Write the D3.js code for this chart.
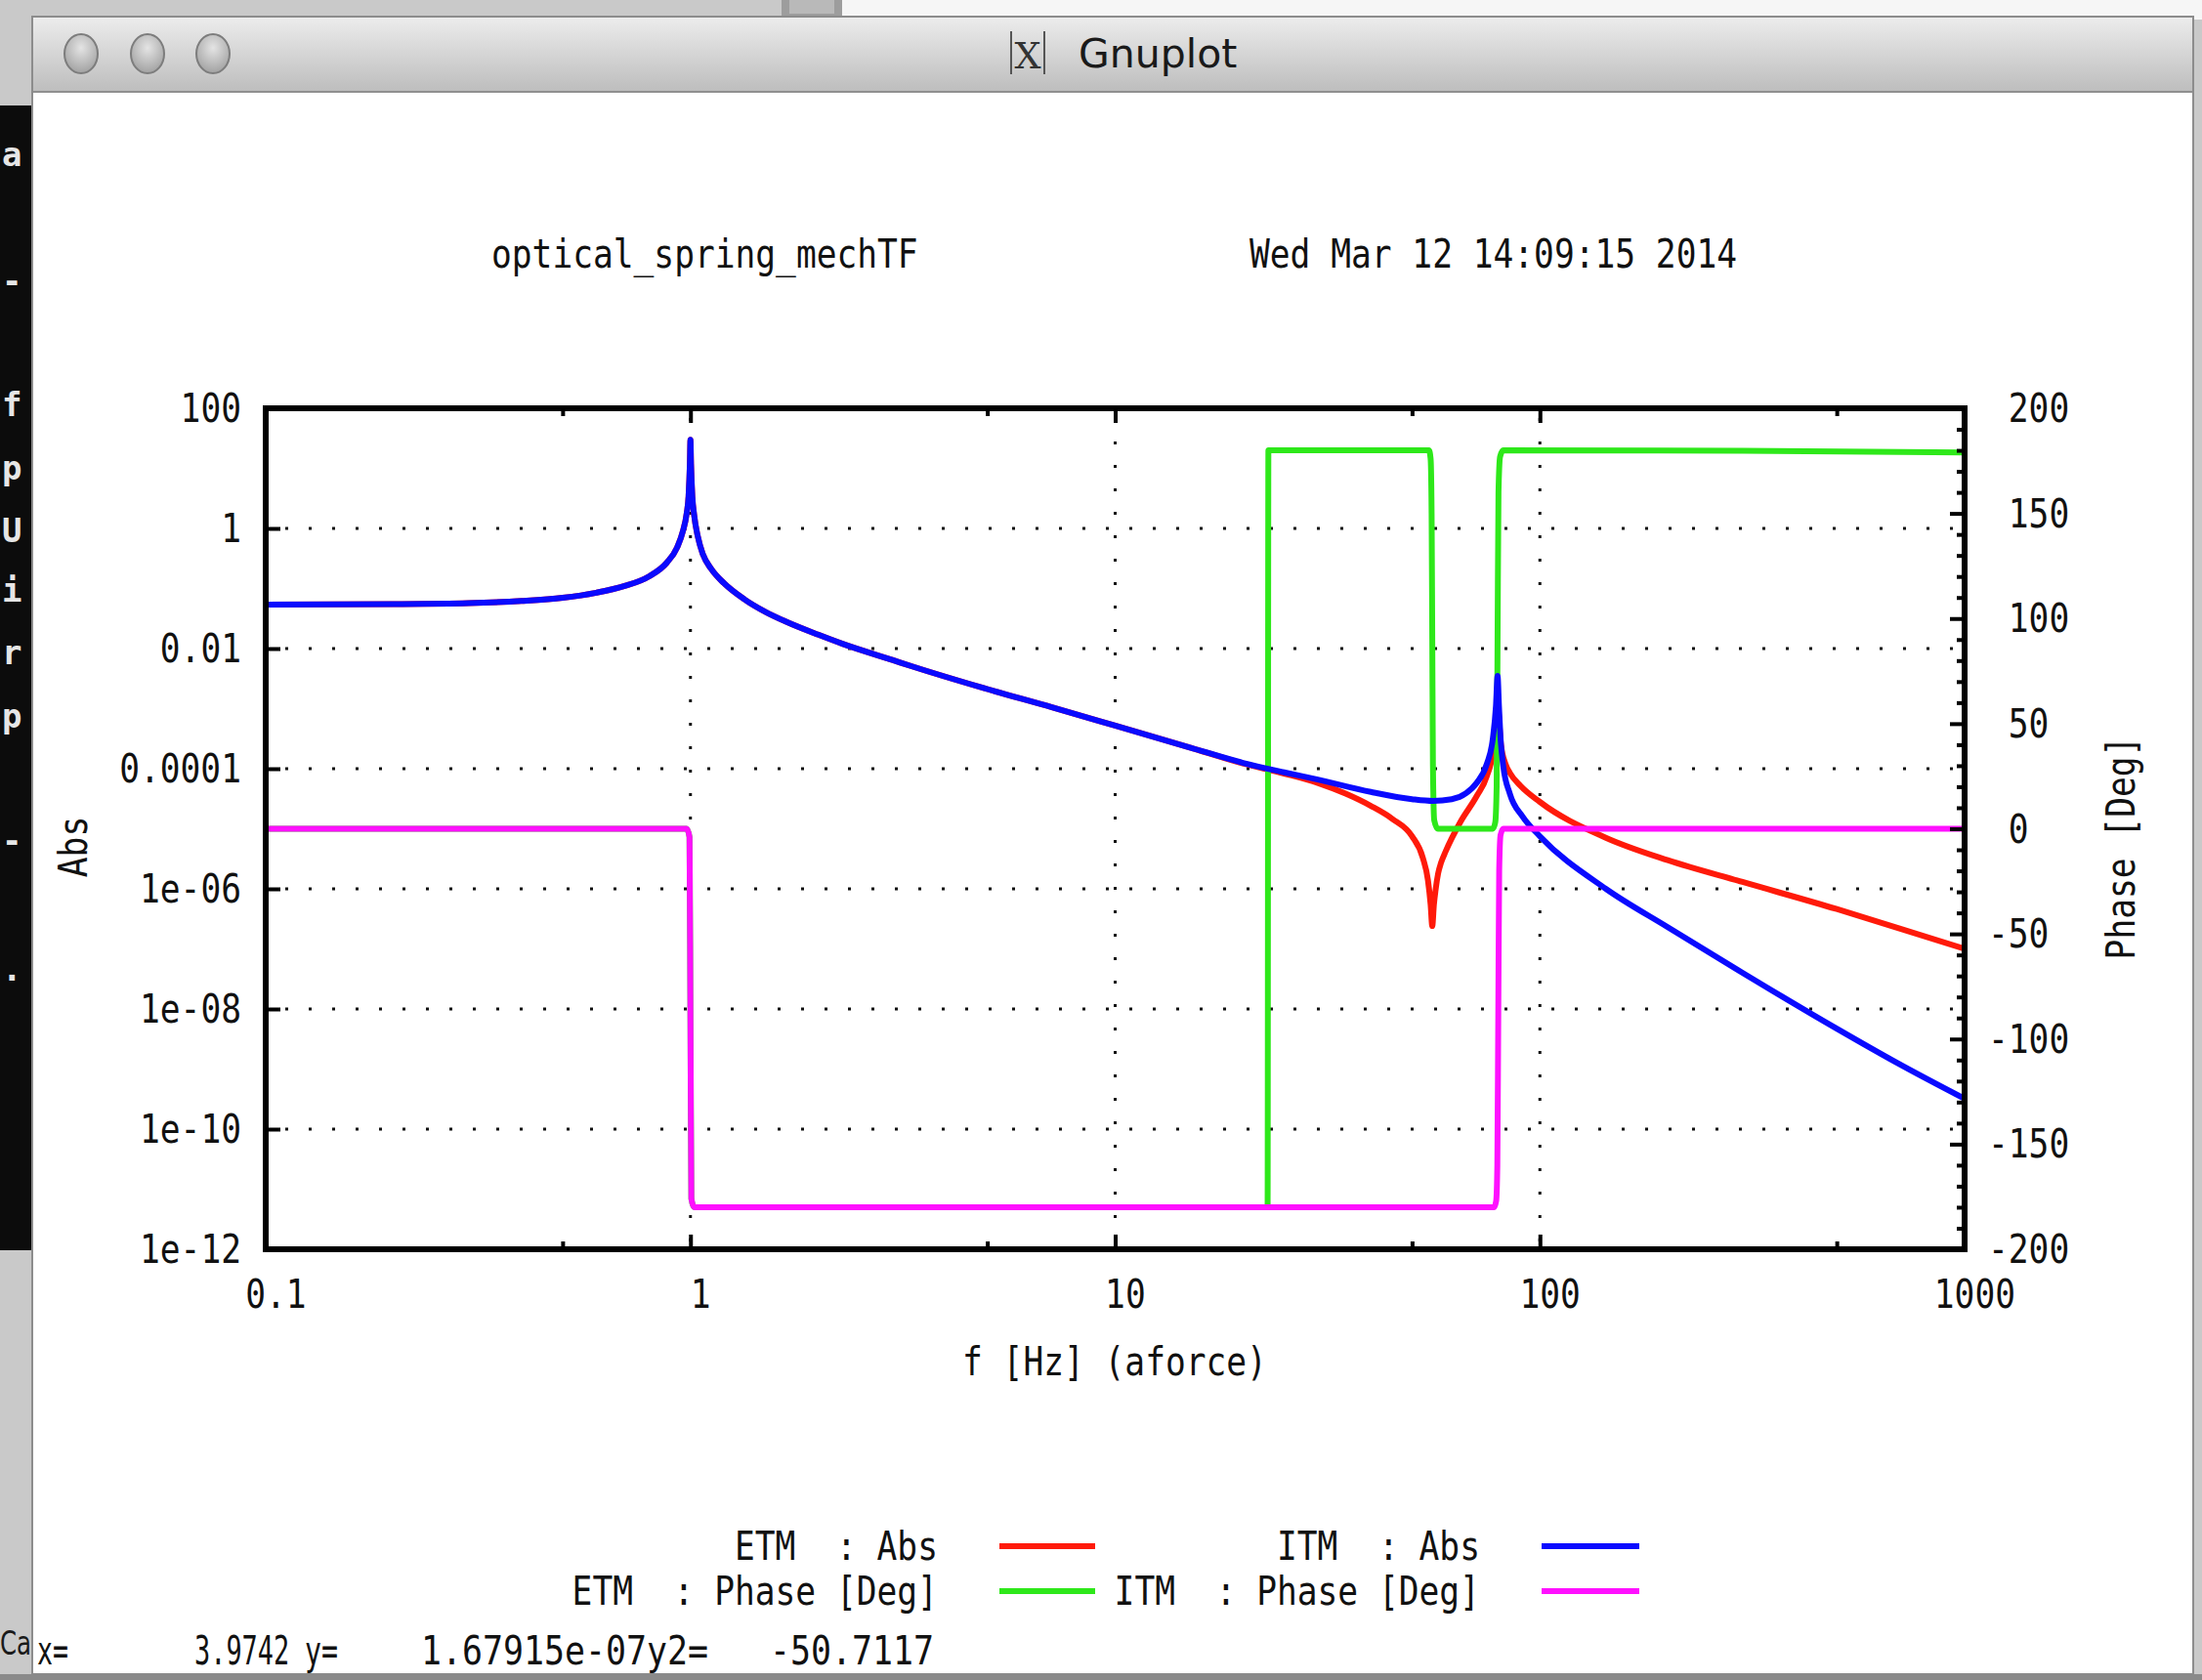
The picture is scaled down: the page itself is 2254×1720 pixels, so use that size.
<!DOCTYPE html>
<html>
<head>
<meta charset="utf-8">
<script src="https://cdn.jsdelivr.net/npm/d3@7"></script>
<style>
  html, body { margin: 0; padding: 0; background: #cdcdcd; overflow: hidden; }
  svg { display: block; }
</style>
</head>
<body>
<svg id="chart" width="2254" height="1720"></svg>
<script>
// ---------------- data: frequency response of the two test masses ----------------
// magnitude series: [frequency in Hz, |TF|]
const etmAbs = [
  [0.1,0.054],[0.2,0.055],[0.3,0.057],[0.4,0.062],[0.5,0.07],[0.6,0.085],[0.7,0.11],[0.8,0.16],
  [0.88,0.27],[0.93,0.48],[0.96,0.9],[0.98,1.8],[0.99,3.5],[0.997,12],[1.0,30],[1.003,12],
  [1.01,3.5],[1.02,1.7],[1.04,0.75],[1.07,0.37],[1.12,0.21],[1.2,0.122],[1.34,0.066],[1.5,0.041],
  [1.68,0.028],[2.0,0.017],[2.28,0.012],[3.0,0.0064],[3.34,0.005],[4.9,0.0022],[7.1,0.00105],
  [10,0.00052],[15,0.000225],[20,0.000122],
  [25,0.000083],[30,0.000058],[35,0.000038],[40,0.000024],[45,0.0000145],[50,0.0000075],
  [53,0.0000033],[54.5,0.0000014],[55.3,0.00000055],[55.8,0.00000024],[56.3,0.00000055],
  [56.8,0.00000095],[57.6,0.0000018],[58.5,0.0000027],[60,0.0000042],[65,0.000013],[71,0.000035],
  [75,0.000075],[77.5,0.00019],[78.8,0.0006],[79.5,0.0015],[80.2,0.0006],[81,0.00025],[83,0.00012],
  [85,0.000085],[90,0.000052],[100,0.000028],[143,0.0000071],[200,0.000003],[300,0.0000013],
  [500,0.00000046],[700,0.00000022],[1000,0.0000001]
];
const itmAbs = [
  [0.1,0.054],[0.2,0.055],[0.3,0.057],[0.4,0.062],[0.5,0.07],[0.6,0.085],[0.7,0.11],[0.8,0.16],
  [0.88,0.27],[0.93,0.48],[0.96,0.9],[0.98,1.8],[0.99,3.5],[0.997,12],[1.0,30],[1.003,12],
  [1.01,3.5],[1.02,1.7],[1.04,0.75],[1.07,0.37],[1.12,0.21],[1.2,0.122],[1.34,0.066],[1.5,0.041],
  [1.68,0.028],[2.0,0.017],[2.28,0.012],[3.0,0.0064],[3.34,0.005],[4.9,0.0022],[7.1,0.00105],
  [10,0.00052],[15,0.000225],[20,0.000125],
  [25,0.000087],[30,0.000066],[40,0.000041],[50,0.000031],[56,0.000029],[62,0.000031],
  [67,0.000039],[71,0.000058],[75,0.00012],[77.5,0.00032],[78.8,0.0011],[79.5,0.0035],
  [80.1,0.0011],[80.8,0.00032],[82,0.00011],[85,0.000038],[91,0.000016],[100,0.0000075],
  [143,0.000001],[200,0.00000023],[300,0.00000004],[500,0.0000000047],[700,0.00000000122],
  [1000,0.00000000032]
];
// phase series: [frequency in Hz, degrees]
const etmPhase = [
  [0.1,0],[0.98,0],[0.995,-4],[1.0,-90],[1.005,-176],[1.02,-180],
  [10,-180],[22.85,-180],[22.95,180],[54.8,180],[55.3,176],[55.6,150],[55.8,90],[56.0,30],
  [56.4,4],[57.5,0],[77.5,0],[78.5,3],[79.1,20],[79.5,90],[79.9,160],[80.6,177],[82,180],
  [300,179.8],[1000,179]
];
const itmPhase = [
  [0.1,0],[0.98,0],[0.995,-4],[1.0,-90],[1.005,-176],[1.02,-180],
  [10,-180],[78,-180],[78.9,-177],[79.4,-160],[79.8,-90],[80.2,-20],[80.8,-3],[82,0],[1000,0]
];

// axis ticks and labels
const xMajor = [0.1, 1, 10, 100, 1000];
const xMinor = [0.5, 5, 50, 500];
const xTickLabels = ["0.1", "1", "10", "100", "1000"];
const yMajor = [1e-12, 1e-10, 1e-8, 1e-6, 1e-4, 1e-2, 1, 100];
const yTickLabels = ["1e-12", "1e-10", "1e-08", "1e-06", "0.0001", "0.01", "1", "100"];
const y2Major = [-200, -150, -100, -50, 0, 50, 100, 150, 200];
const y2TickLabels = ["-200", "-150", "-100", "-50", "0", "50", "100", "150", "200"];

const plotTitle = "optical_spring_mechTF";
const plotDate = "Wed Mar 12 14:09:15 2014";
const xLabel = "f [Hz] (aforce)";
const yLabel = "Abs";
const y2Label = "Phase [Deg]";
const legendEntries = [
  { label: "ETM  : Abs", data: etmAbs, axis: "y", color: "#ff1a0a" },
  { label: "ETM  : Phase [Deg]", data: etmPhase, axis: "y2", color: "#2ee81a" },
  { label: "ITM  : Abs", data: itmAbs, axis: "y", color: "#0a0aff" },
  { label: "ITM  : Phase [Deg]", data: itmPhase, axis: "y2", color: "#ff10ff" }
];
// cursor readout in the status line: [text, left x, character width]
const statusParts = [["x=", 38, 16], ["3.9742", 199, 16.2], ["y=", 312, 17], ["1.67915e-07y2=", 431, 21], ["-50.7117", 788, 21]];

// ---------------- layout ----------------
const W = 2254, H = 1720;
const P = { left: 272, right: 2011, top: 418, bottom: 1279 };
const MONO = "'DejaVu Sans Mono','Liberation Mono',monospace";
const FS = 40, CW = 20.8, NATURAL_CW = 0.602 * FS;

const svg = d3.select("#chart");

// ---------------- desktop and window frame ----------------
const defs = svg.append("defs");
const tb = defs.append("linearGradient").attr("id", "titlebar").attr("x1", 0).attr("y1", 0).attr("x2", 0).attr("y2", 1);
tb.append("stop").attr("offset", "0%").attr("stop-color", "#ececec");
tb.append("stop").attr("offset", "100%").attr("stop-color", "#bdbdbd");
const btn = defs.append("radialGradient").attr("id", "btn").attr("cx", "50%").attr("cy", "35%").attr("r", "65%");
btn.append("stop").attr("offset", "0%").attr("stop-color", "#e4e4e4");
btn.append("stop").attr("offset", "100%").attr("stop-color", "#a2a2a2");

svg.append("rect").attr("width", W).attr("height", H).attr("fill", "#c9c9c9");
svg.append("rect").attr("x", 860).attr("y", 0).attr("width", W - 860).attr("height", 20).attr("fill", "#f6f6f6");
svg.append("rect").attr("x", 800).attr("y", 0).attr("width", 62).attr("height", 20).attr("fill", "#9d9d9d");
svg.append("rect").attr("x", 808).attr("y", 0).attr("width", 46).attr("height", 14).attr("fill", "#b9b9b9");

// terminal behind the window, on the left edge
svg.append("rect").attr("x", 0).attr("y", 108).attr("width", 36).attr("height", 1172).attr("fill", "#0c0c0c");
const termChars = [["a",158],["-",287],["f",414],["p",479],["U",543],["i",604],["r",668],["p",733],["-",860],[".",992]];
svg.append("g").selectAll("text").data(termChars).join("text")
  .attr("x", 2).attr("y", d => d[1] + 12)
  .attr("font-family", MONO).attr("font-size", 34).attr("font-weight", "bold")
  .attr("fill", "#e6e6e6").text(d => d[0]);

// window body
svg.append("rect").attr("x", 33).attr("y", 17).attr("width", 2212).attr("height", 1697)
  .attr("fill", "#ffffff").attr("stroke", "#8c8c8c").attr("stroke-width", 2);
svg.append("rect").attr("x", 34).attr("y", 18).attr("width", 2210).attr("height", 76).attr("fill", "url(#titlebar)");
svg.append("line").attr("x1", 34).attr("x2", 2244).attr("y1", 94).attr("y2", 94).attr("stroke", "#8f8f8f").attr("stroke-width", 2);
svg.append("rect").attr("x", 0).attr("y", 1714).attr("width", W).attr("height", 6).attr("fill", "#8a8a8a");
svg.append("g").attr("transform", "translate(0,1694) scale(0.72,1)")
  .append("text").attr("x", 0).attr("y", 0)
  .attr("font-family", "'DejaVu Sans',sans-serif").attr("font-size", 34).attr("fill", "#1a1a1a").text("Ca");

// window buttons
svg.append("g").selectAll("ellipse").data([83, 151, 218]).join("ellipse")
  .attr("cx", d => d).attr("cy", 55).attr("rx", 17).attr("ry", 20)
  .attr("fill", "url(#btn)").attr("stroke", "#7d7d7d").attr("stroke-width", 2);

// window title with X icon
const icon = svg.append("g").attr("transform", "translate(1033,30)");
icon.append("line").attr("x1", 2).attr("x2", 2).attr("y1", 2).attr("y2", 46).attr("stroke", "#555").attr("stroke-width", 2);
icon.append("line").attr("x1", 36).attr("x2", 36).attr("y1", 2).attr("y2", 46).attr("stroke", "#555").attr("stroke-width", 2);
icon.append("text").attr("x", 19).attr("y", 40).attr("text-anchor", "middle")
  .attr("font-family", "'DejaVu Serif',serif").attr("font-size", 38).attr("fill", "#333").text("X");
svg.append("text").attr("x", 1104).attr("y", 69)
  .attr("font-family", "'DejaVu Sans',sans-serif").attr("font-size", 41).attr("fill", "#1a1a1a").text("Gnuplot");

// ---------------- helpers ----------------
// monospace text squeezed horizontally to the narrow terminal font pitch
function mono(sel, str, x, y, anchor, cw) {
  const c = cw || CW;
  const len = str.length * c;
  const x0 = anchor === "end" ? x - len : anchor === "middle" ? x - len / 2 : x;
  return sel.append("g").attr("transform", `translate(${x0},${y}) scale(${c / NATURAL_CW},1)`)
    .append("text").attr("x", 0).attr("y", 0)
    .attr("font-family", MONO).attr("font-size", FS).attr("fill", "#111")
    .style("white-space", "pre").text(str);
}

// ---------------- scales ----------------
const x = d3.scaleLog().domain([0.1, 1000]).range([P.left, P.right]);
const y = d3.scaleLog().domain([1e-12, 100]).range([P.bottom, P.top]);
const y2 = d3.scaleLinear().domain([-200, 200]).range([P.bottom, P.top]);

const plot = svg.append("g");

// ---------------- grid (dotted) ----------------
const grid = plot.append("g").attr("stroke", "#111").attr("stroke-width", 3).attr("stroke-dasharray", "3 21");
grid.selectAll("line.gx").data(xMajor.slice(1, -1)).join("line")
  .attr("x1", d => x(d)).attr("x2", d => x(d)).attr("y1", P.bottom - 8).attr("y2", P.top + 8);
grid.selectAll("line.gy").data(yMajor.slice(1, -1)).join("line")
  .attr("x1", P.left + 20).attr("x2", P.right - 8).attr("y1", d => y(d)).attr("y2", d => y(d));

// ---------------- curves ----------------
defs.append("clipPath").attr("id", "plotclip").append("rect")
  .attr("x", P.left).attr("y", P.top).attr("width", P.right - P.left).attr("height", P.bottom - P.top);
const curves = plot.append("g").attr("clip-path", "url(#plotclip)");
legendEntries.forEach(s => {
  const yy = s.axis === "y" ? y : y2;
  const line = d3.line().x(d => x(d[0])).y(d => yy(d[1])).curve(d3.curveMonotoneX);
  curves.append("path").datum(s.data).attr("d", line)
    .attr("fill", "none").attr("stroke", s.color).attr("stroke-width", 6)
    .attr("stroke-linejoin", "round").attr("stroke-linecap", "round");
});

// ---------------- axes ----------------
const ax = plot.append("g");
const xAxisB = d3.axisBottom(x).tickValues(xMajor).tickSize(-15).tickFormat("");
const xAxisT = d3.axisTop(x).tickValues(xMajor).tickSize(-15).tickFormat("");
const xMinB = d3.axisBottom(x).tickValues(xMinor).tickSize(-8).tickFormat("");
const xMinT = d3.axisTop(x).tickValues(xMinor).tickSize(-8).tickFormat("");
const yAxis = d3.axisLeft(y).tickValues(yMajor).tickSize(-15).tickFormat("");
const y2Minor = d3.range(-190, 200, 10).filter(v => v % 50 !== 0);
const y2Axis = d3.axisRight(y2).tickValues(y2Major).tickSize(-15).tickFormat("");
const y2Min = d3.axisRight(y2).tickValues(y2Minor).tickSize(-8).tickFormat("");

[[xAxisB, `translate(0,${P.bottom})`], [xMinB, `translate(0,${P.bottom})`],
 [xAxisT, `translate(0,${P.top})`], [xMinT, `translate(0,${P.top})`],
 [yAxis, `translate(${P.left},0)`],
 [y2Axis, `translate(${P.right},0)`], [y2Min, `translate(${P.right},0)`]]
 .forEach(([a, t]) => {
   const g = ax.append("g").attr("transform", t).call(a);
   g.select(".domain").remove();
   g.selectAll(".tick line").attr("stroke", "#000").attr("stroke-width", 4);
 });

// border
ax.append("rect").attr("x", P.left).attr("y", P.top)
  .attr("width", P.right - P.left).attr("height", P.bottom - P.top)
  .attr("fill", "none").attr("stroke", "#000").attr("stroke-width", 6);

// tick labels
const labels = svg.append("g");
xMajor.forEach((v, i) => mono(labels, xTickLabels[i], x(v) + CW / 2, 1339, "middle"));
yMajor.forEach((v, i) => mono(labels, yTickLabels[i], 247, y(v) + 14, "end"));
y2Major.forEach((v, i) => mono(labels, y2TickLabels[i], 2035 + (v < 0 ? 0 : CW), y2(v) + 14, "start"));

// titles
mono(labels, plotTitle, 503, 274, "start");
mono(labels, plotDate, 1279, 274, "start");
mono(labels, xLabel, 1141, 1408, "middle");
const yl = labels.append("g").attr("transform", "translate(89,867) rotate(-90)");
mono(yl, yLabel, 0, 0, "middle");
const y2l = labels.append("g").attr("transform", "translate(2185,868) rotate(-90)");
mono(y2l, y2Label, 0, 0, "middle");

// ---------------- legend (two columns) ----------------
const legPos = [
  { tx: 960, lx1: 1023, lx2: 1121, y: 1583 },
  { tx: 960, lx1: 1023, lx2: 1121, y: 1629 },
  { tx: 1515, lx1: 1578, lx2: 1678, y: 1583 },
  { tx: 1515, lx1: 1578, lx2: 1678, y: 1629 }
];
const leg = svg.append("g");
legendEntries.forEach((s, i) => {
  const p = legPos[i];
  mono(leg, s.label, p.tx, p.y + 14, "end");
  leg.append("line").attr("x1", p.lx1).attr("x2", p.lx2).attr("y1", p.y).attr("y2", p.y)
    .attr("stroke", s.color).attr("stroke-width", 6);
});

// status line with the cursor readout
const status = svg.append("g");
statusParts.forEach(([t, sx, cw]) => mono(status, t, sx, 1704, "start", cw));
</script>
</body>
</html>
